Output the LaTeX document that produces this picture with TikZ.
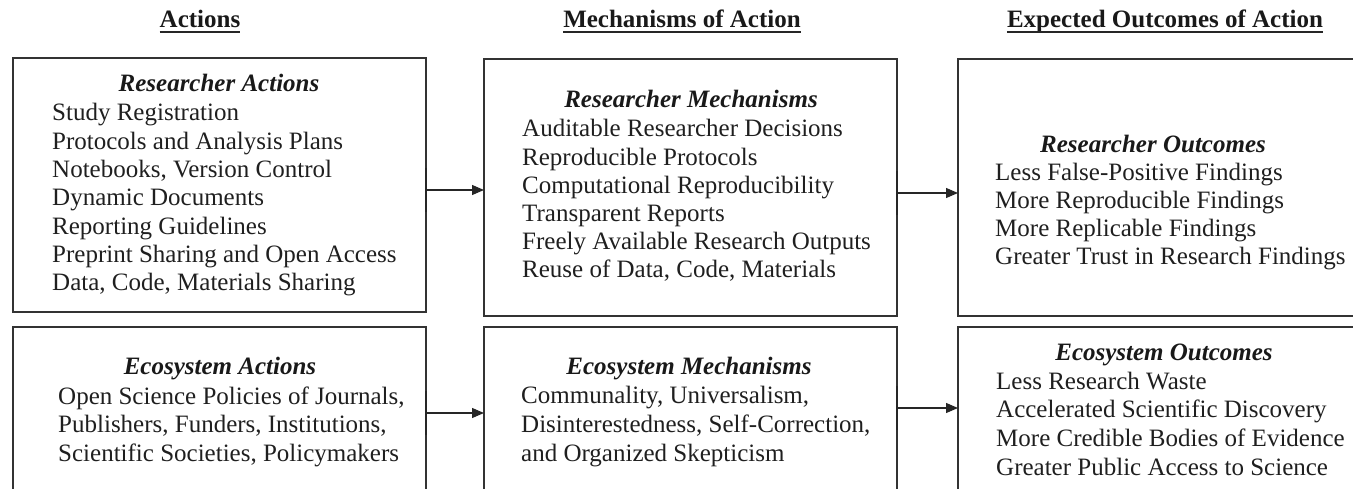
\documentclass[tikz,border=0pt]{standalone}
\usepackage{fontspec}
\setmainfont{Liberation Serif}
\usetikzlibrary{arrows.meta}
\begin{document}
\begin{tikzpicture}[x=1pt,y=-1pt,
  box/.style={draw=black!80, line width=1.1pt, inner sep=0pt, outer sep=0pt, anchor=north west},
  head/.style={font=\fontsize{25}{28}\selectfont\bfseries, anchor=base, inner sep=0pt, text=black!90},
  ttl/.style={font=\fontsize{25}{28}\selectfont\bfseries\itshape, anchor=base, inner sep=0pt, text=black!90},
  item/.style={font=\fontsize{25}{28}\selectfont, anchor=base west, inner sep=0pt, text=black!88},
  uline/.style={draw=black!85, line width=1.3pt},
  tailbar/.style={draw=black!85, line width=1.6pt},
  conn/.style={draw=black!85, line width=1.1pt, -{Triangle[length=12pt,width=10pt]}}]
\useasboundingbox (0,0) rectangle (1353,489);
\clip (0,0) rectangle (1353,489);

% column headings
\node[head] (h1) at (200,28) {Actions};
\node[head] (h2) at (682,28) {Mechanisms of Action};
\node[head] (h3) at (1165,28) {Expected Outcomes of Action};
\foreach \h in {h1,h2,h3}
  \draw[uline] ([yshift=-4pt]\h.base west) -- ([yshift=-4pt]\h.base east);

% boxes
\node[box, minimum width=413pt, minimum height=254pt] (ra) at (13,58) {};
\node[box, minimum width=413pt, minimum height=200pt] (ea) at (13,327) {};
\node[box, minimum width=413pt, minimum height=257pt] (rm) at (484,59) {};
\node[box, minimum width=413pt, minimum height=200pt] (em) at (484,327) {};
\node[box, minimum width=420pt, minimum height=257pt] (ro) at (958,59) {};
\node[box, minimum width=420pt, minimum height=200pt] (eo) at (958,327) {};

% researcher actions
\node[ttl] (ra-t) at (219,92) {Researcher Actions};
\foreach \t [count=\i from 0] in {Study Registration, Protocols and Analysis Plans,
  {Notebooks, Version Control}, Dynamic Documents, Reporting Guidelines,
  Preprint Sharing and Open Access, {Data, Code, Materials Sharing}}
  \node[item] (ra-\i) at (52,121+28.3*\i) {\t};

% researcher mechanisms
\node[ttl] (rm-t) at (691,108) {Researcher Mechanisms};
\foreach \t [count=\i from 0] in {Auditable Researcher Decisions, Reproducible Protocols,
  Computational Reproducibility, Transparent Reports,
  Freely Available Research Outputs, {Reuse of Data, Code, Materials}}
  \node[item] (rm-\i) at (522,137+28.2*\i) {\t};

% researcher outcomes
\node[ttl] (ro-t) at (1153,153) {Researcher Outcomes};
\foreach \t [count=\i from 0] in {Less False-Positive Findings, More Reproducible Findings,
  More Replicable Findings, Greater Trust in Research Findings}
  \node[item] (ro-\i) at (995,181+28*\i) {\t};

% ecosystem actions
\node[ttl] (ea-t) at (220,374) {Ecosystem Actions};
\foreach \t [count=\i from 0] in {{Open Science Policies of Journals,},
  {Publishers, Funders, Institutions,}, {Scientific Societies, Policymakers}}
  \node[item] (ea-\i) at (58,404+28.5*\i) {\t};

% ecosystem mechanisms
\node[ttl] (em-t) at (689,374) {Ecosystem Mechanisms};
\foreach \t [count=\i from 0] in {{Communality, Universalism,},
  {Disinterestedness, Self-Correction,}, and Organized Skepticism}
  \node[item] (em-\i) at (521,403+29*\i) {\t};

% ecosystem outcomes
\node[ttl] (eo-t) at (1164,360) {Ecosystem Outcomes};
\foreach \t [count=\i from 0] in {Less Research Waste, Accelerated Scientific Discovery,
  More Credible Bodies of Evidence, Greater Public Access to Science}
  \node[item] (eo-\i) at (996,389+28.7*\i) {\t};

% connectors, each with a short heavier stroke on the border at its tail
\draw[tailbar] (ra.east |- 0,168) -- (ra.east |- 0,212);
\draw[conn] (ra.east |- 0,190) -- (rm.west |- 0,190);
\draw[tailbar] (rm.east |- 0,171) -- (rm.east |- 0,215);
\draw[conn] (rm.east |- 0,193) -- (ro.west |- 0,193);
\draw[tailbar] (ea.east |- 0,391) -- (ea.east |- 0,435);
\draw[conn] (ea.east |- 0,413) -- (em.west |- 0,413);
\draw[tailbar] (em.east |- 0,386) -- (em.east |- 0,430);
\draw[conn] (em.east |- 0,408) -- (eo.west |- 0,408);
\end{tikzpicture}
\end{document}
